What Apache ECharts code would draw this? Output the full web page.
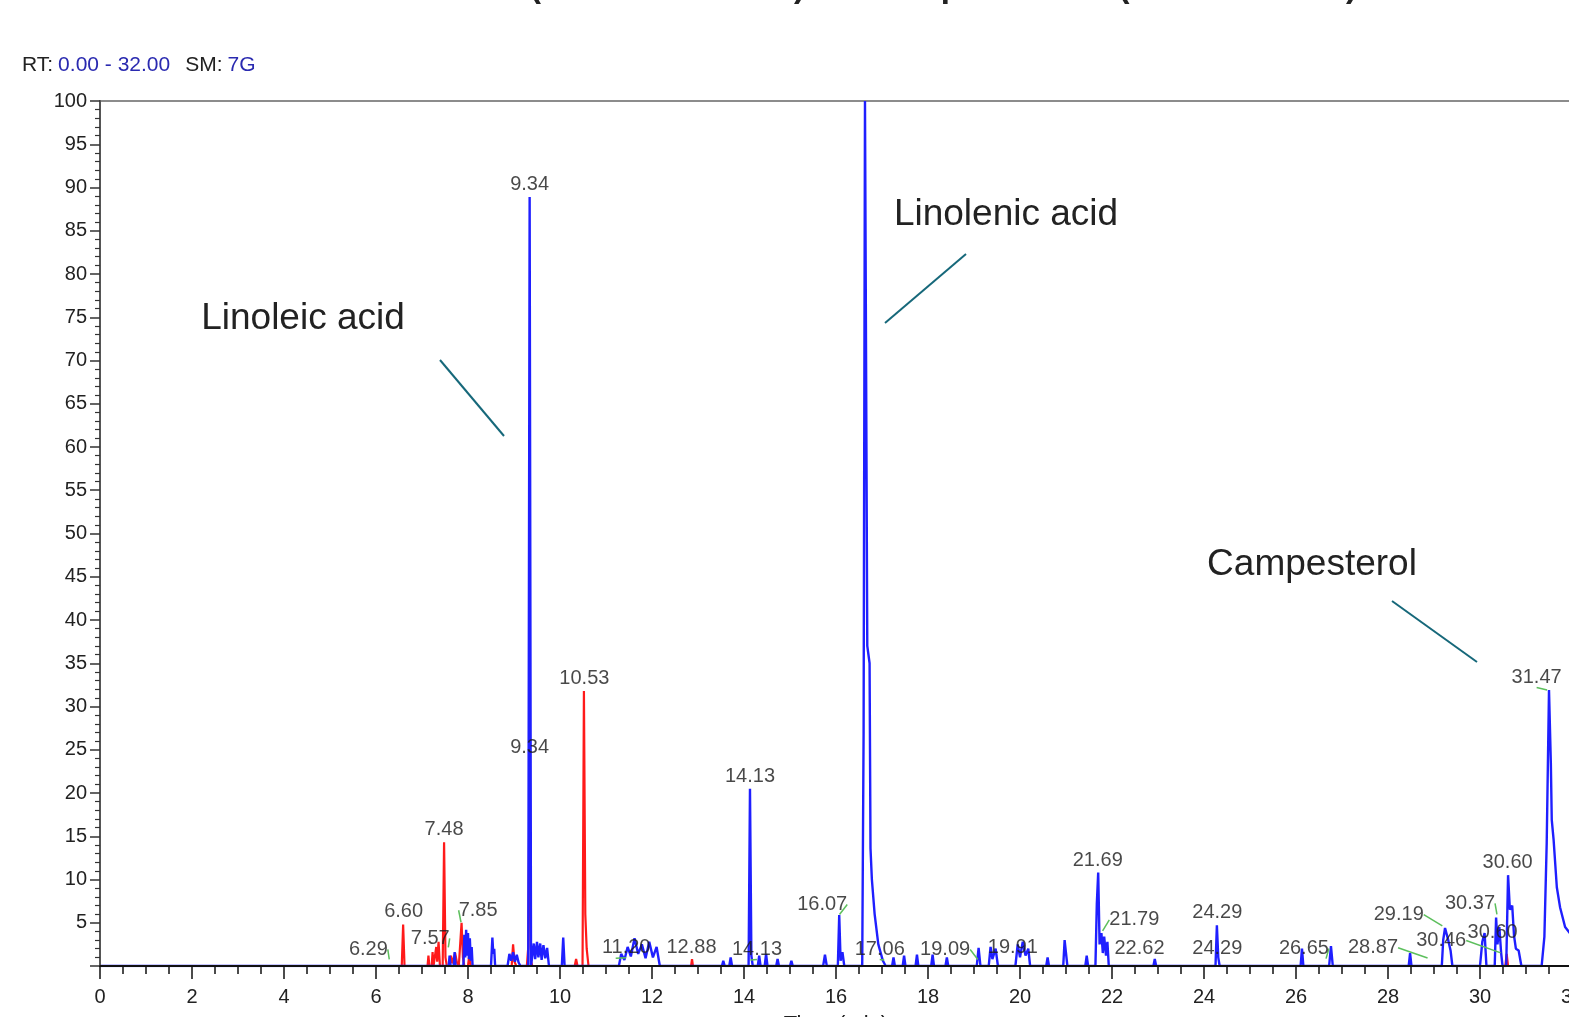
<!DOCTYPE html>
<html>
<head>
<meta charset="utf-8">
<script src="https://cdn.jsdelivr.net/npm/echarts@6.0.0/dist/echarts.min.js"></script>
<style>
  html, body { margin: 0; padding: 0; background: #fff; }
  #chart { width: 1569px; height: 1017px; }
</style>
</head>
<body>
<div id="chart"></div>
<script>
// retention time (min) vs relative abundance (%), blue trace
const blueTrace = [
  [0, 0], [7.58, 0], [7.6, 1.2], [7.62, 0], [7.69, 0], [7.71, 1.6], [7.73, 0],
  [7.9, 0], [7.92, 3.6], [7.94, 1.0], [7.96, 4.2], [7.98, 1.2], [8.0, 3.8], [8.02, 0.8], [8.04, 3.2], [8.06, 0.6], [8.08, 2.2], [8.1, 0],
  [8.5, 0], [8.53, 3.3], [8.55, 1.4], [8.57, 2.0], [8.59, 0],
  [8.86, 0], [8.9, 1.4], [8.94, 0.6], [8.98, 1.6], [9.02, 0.5], [9.06, 1.3], [9.1, 0.4], [9.14, 0],
  [9.31, 0], [9.34, 88.9], [9.37, 0],
  [9.4, 0], [9.43, 2.6], [9.46, 0.8], [9.5, 2.8], [9.53, 1.0], [9.57, 2.6], [9.6, 0.7], [9.64, 2.4], [9.68, 0.9], [9.72, 2.1], [9.76, 0],
  [10.04, 0], [10.07, 3.3], [10.1, 0],
  [11.28, 0], [11.33, 1.4], [11.4, 0.7], [11.47, 2.2], [11.54, 1.1], [11.62, 3.2], [11.7, 1.4], [11.78, 2.5], [11.86, 0.9], [11.94, 2.8], [12.02, 1.0], [12.1, 2.2], [12.17, 0],
  [13.52, 0], [13.55, 0.6], [13.58, 0], [13.68, 0], [13.71, 1.0], [13.74, 0],
  [14.1, 0], [14.13, 20.5], [14.16, 1.2], [14.19, 0],
  [14.3, 0], [14.33, 1.2], [14.36, 0], [14.45, 0], [14.48, 1.4], [14.51, 0], [14.7, 0], [14.73, 0.8], [14.76, 0], [15.0, 0], [15.03, 0.6], [15.06, 0],
  [15.72, 0], [15.76, 1.3], [15.8, 0],
  [16.04, 0], [16.07, 5.9], [16.1, 0.6], [16.14, 1.6], [16.18, 0],
  [16.57, 0], [16.6, 27], [16.63, 100], [16.66, 100], [16.68, 37], [16.73, 35], [16.75, 13.6], [16.78, 10], [16.84, 6], [16.92, 2.5], [17.02, 0.6], [17.08, 0],
  [17.22, 0], [17.25, 1.0], [17.28, 0], [17.45, 0], [17.48, 1.2], [17.51, 0],
  [17.73, 0], [17.76, 1.3], [17.79, 0], [18.07, 0], [18.1, 1.3], [18.13, 0], [18.38, 0], [18.41, 1.0], [18.44, 0],
  [19.06, 0], [19.1, 2.1], [19.14, 0], [19.32, 0], [19.36, 2.2], [19.4, 0.8], [19.47, 2.0], [19.52, 0],
  [19.9, 0], [19.95, 2.5], [20.0, 1.0], [20.06, 2.8], [20.12, 1.2], [20.18, 2.0], [20.22, 0],
  [20.57, 0], [20.6, 1.0], [20.63, 0], [20.94, 0], [20.97, 3.0], [21.0, 1.5], [21.03, 0], [21.42, 0], [21.45, 1.2], [21.48, 0],
  [21.64, 0], [21.67, 7.2], [21.7, 10.8], [21.73, 2.5], [21.77, 3.8], [21.8, 1.5], [21.83, 3.4], [21.87, 1.2], [21.9, 2.8], [21.93, 0],
  [22.9, 0], [22.93, 0.8], [22.96, 0],
  [24.25, 0], [24.28, 4.7], [24.31, 1.0], [24.34, 0],
  [26.1, 0], [26.13, 2.0], [26.16, 0], [26.72, 0], [26.76, 2.3], [26.8, 0],
  [28.45, 0], [28.48, 1.5], [28.51, 0],
  [29.17, 0], [29.2, 3.0], [29.24, 4.4], [29.3, 3.2], [29.36, 1.8], [29.4, 0],
  [30.0, 0], [30.05, 2.8], [30.1, 3.8], [30.14, 0],
  [30.32, 0], [30.35, 5.6], [30.38, 2.5], [30.42, 4.5], [30.46, 1.5], [30.49, 0],
  [30.57, 0], [30.61, 10.5], [30.65, 6.5], [30.7, 7.0], [30.74, 3.5], [30.78, 2.0], [30.84, 1.8], [30.9, 0],
  [31.34, 0], [31.4, 3.4], [31.45, 14.2], [31.5, 31.9], [31.54, 23.5], [31.56, 16.9], [31.6, 14.6], [31.67, 9.1], [31.74, 6.8], [31.85, 4.5], [32, 3.5]
];

// red trace
const redTrace = [
  [0, 0], [6.56, 0], [6.59, 4.8], [6.62, 0],
  [7.12, 0], [7.14, 1.2], [7.16, 0], [7.21, 0], [7.23, 1.6], [7.25, 0], [7.29, 0], [7.31, 2.2], [7.33, 0.5], [7.36, 2.8], [7.39, 0],
  [7.45, 0], [7.48, 14.3], [7.51, 1.0], [7.54, 0],
  [7.6, 0], [7.63, 1.2], [7.66, 0.3], [7.72, 1.5], [7.76, 0.4], [7.8, 0],
  [7.83, 0], [7.86, 5.0], [7.89, 1.0], [7.92, 0],
  [8.0, 0], [8.03, 1.3], [8.06, 0],
  [8.95, 0], [8.98, 2.5], [9.01, 0.5], [9.05, 0],
  [9.28, 0], [9.31, 2.2], [9.34, 23.8], [9.37, 0.5], [9.4, 0],
  [10.32, 0], [10.35, 0.8], [10.38, 0],
  [10.49, 0], [10.52, 31.8], [10.55, 6.0], [10.58, 2.0], [10.62, 0],
  [12.85, 0], [12.87, 0.8], [12.89, 0],
  [30.55, 0], [30.58, 1.4], [30.61, 0], [32, 0]
];

// peak labels: text, retention time, abundance at the labelled point
const labelText = ['9.34', '10.53', '7.48', '6.60', '14.13', '21.69', '24.29', '30.60', '9.34',
  '6.29', '7.57', '7.85', '11.20', '12.88', '14.13', '16.07', '17.06', '19.09', '19.91',
  '21.79', '22.62', '24.29', '26.65', '28.87', '29.19', '30.46', '30.37', '30.60', '31.47'];
const labelRT = [9.34, 10.53, 7.48, 6.60, 14.13, 21.69, 24.29, 30.60, 9.34,
  6.29, 7.57, 7.85, 11.20, 12.88, 14.13, 16.07, 17.06, 19.09, 19.91,
  21.79, 22.62, 24.29, 26.65, 28.87, 29.19, 30.46, 30.37, 30.60, 31.47];
const labelAbund = [88.9, 31.8, 14.3, 4.8, 20.5, 10.8, 4.7, 10.5, 23.8,
  0.7, 2.1, 5.0, 0.9, 0.7, 0.7, 5.9, 0.7, 0.7, 0.7,
  4.0, 0.6, 0.6, 0.8, 0.9, 4.6, 1.5, 5.9, 2.4, 31.9];

// label placement (px shift from default) and whether a leader line is drawn
const labelShift = [[0, 0], [0, 0], [0, 0], [0, 0], [0, 0], [0, 0], [0, 0], [0, 0], [0, 0],
  [-21, 2], [-18, 3], [17, 0], [11, 2], [-1, 0], [7, 2], [-17, 2], [-5, 2], [-33, 2], [-3, 0],
  [32, 1], [-1, 0], [0, 0], [-22, 2], [-55, 2], [-44, 1], [-60, 0], [-27, 1], [-15, 0], [-11, 0]];
const labelLead = [false, false, false, false, false, false, false, false, false,
  true, true, true, true, false, true, true, true, true, false,
  true, false, false, true, true, true, true, true, false, true];

const FONT = '"Liberation Sans", Arial, sans-serif';

const chart = echarts.init(document.getElementById('chart'), null, { renderer: 'canvas' });

const option = {
  animation: false,
  backgroundColor: '#fff',
  title: {
    text: '{k|RT:} {v|0.00 - 32.00}   {k|SM:} {v|7G}',
    left: 17,
    top: 50,
    textStyle: {
      rich: {
        k: { color: '#222', fontSize: 21, fontWeight: 'normal', fontFamily: FONT },
        v: { color: '#2a2ab0', fontSize: 21, fontWeight: 'normal', fontFamily: FONT }
      }
    }
  },
  grid: {
    left: 100, right: -3, top: 101, bottom: 51,
    show: true, borderColor: '#8c8c8c', borderWidth: 2,
    outerBoundsMode: 'none'
  },
  xAxis: {
    type: 'value',
    min: 0, max: 32, interval: 2,
    z: 10,
    name: 'Time (min)',
    nameLocation: 'middle',
    nameGap: 48,
    nameTextStyle: { fontSize: 22, color: '#222', fontFamily: FONT },
    axisLine: { lineStyle: { color: '#111', width: 2 } },
    axisTick: { length: 13, lineStyle: { color: '#111', width: 1.5 } },
    minorTick: { show: true, splitNumber: 4, length: 8, lineStyle: { color: '#111', width: 1.5 } },
    axisLabel: { fontSize: 20, color: '#222', margin: 21, fontFamily: FONT },
    splitLine: { show: false }
  },
  yAxis: {
    type: 'value',
    min: 0, max: 100, interval: 5,
    z: 10,
    axisLine: { show: true, lineStyle: { color: '#555', width: 2 } },
    axisTick: { show: true, length: 10, lineStyle: { color: '#333', width: 1.5 } },
    minorTick: { show: true, splitNumber: 5, length: 5, lineStyle: { color: '#333', width: 1.2 } },
    axisLabel: {
      fontSize: 20, color: '#222', margin: 13, fontFamily: FONT,
      formatter: v => (v === 0 ? '' : v)
    },
    splitLine: { show: false }
  },
  series: [
    {
      name: 'red',
      type: 'line',
      data: redTrace,
      showSymbol: false,
      z: 2,
      lineStyle: { color: '#ff1a1a', width: 2.2 },
      itemStyle: { color: '#ff1a1a' }
    },
    {
      name: 'blue',
      type: 'line',
      data: blueTrace,
      showSymbol: false,
      z: 3,
      lineStyle: { color: '#1f1fff', width: 2.4 },
      itemStyle: { color: '#1f1fff' }
    },
    {
      name: 'peaks',
      type: 'scatter',
      z: 4,
      symbol: 'circle',
      symbolSize: 1,
      itemStyle: { color: 'rgba(0,0,0,0)' },
      data: labelRT.map((t, i) => ({
        value: [t, labelAbund[i]],
        labelLine: { show: labelLead[i] }
      })),
      label: {
        show: true,
        position: 'top',
        distance: 2,
        fontSize: 20,
        color: '#1a1a1a',
        fontFamily: FONT,
        formatter: p => labelText[p.dataIndex]
      },
      labelLayout: p => ({ dx: labelShift[p.dataIndex][0], dy: labelShift[p.dataIndex][1] }),
      labelLine: { show: true, lineStyle: { color: '#5cbf5c', width: 1.5 } },
      emphasis: { disabled: true }
    }
  ],
  graphic: [
    {
      type: 'text', x: 299, y: 4, silent: true,
      style: {
        text: 'GC-MS Profile (Seed Oil Extract) Oil Composition of (Crude Extract)',
        font: 'bold 33px ' + FONT, fill: '#222', align: 'left', verticalAlign: 'bottom'
      }
    },
    {
      type: 'text', x: 303, y: 319, silent: true,
      style: { text: 'Linoleic acid', font: '37px ' + FONT, fill: '#222', align: 'center', verticalAlign: 'middle' }
    },
    {
      type: 'line', silent: true,
      shape: { x1: 440, y1: 360, x2: 504, y2: 436 },
      style: { stroke: '#16687a', lineWidth: 2 }
    },
    {
      type: 'text', x: 1006, y: 215, silent: true,
      style: { text: 'Linolenic acid', font: '37px ' + FONT, fill: '#222', align: 'center', verticalAlign: 'middle' }
    },
    {
      type: 'line', silent: true,
      shape: { x1: 966, y1: 254, x2: 885, y2: 323 },
      style: { stroke: '#16687a', lineWidth: 2 }
    },
    {
      type: 'text', x: 1312, y: 565, silent: true,
      style: { text: 'Campesterol', font: '37px ' + FONT, fill: '#222', align: 'center', verticalAlign: 'middle' }
    },
    {
      type: 'line', silent: true,
      shape: { x1: 1392, y1: 601, x2: 1477, y2: 662 },
      style: { stroke: '#16687a', lineWidth: 2 }
    }
  ]
};

chart.setOption(option);
window.addEventListener('resize', chart.resize);
</script>
</body>
</html>
